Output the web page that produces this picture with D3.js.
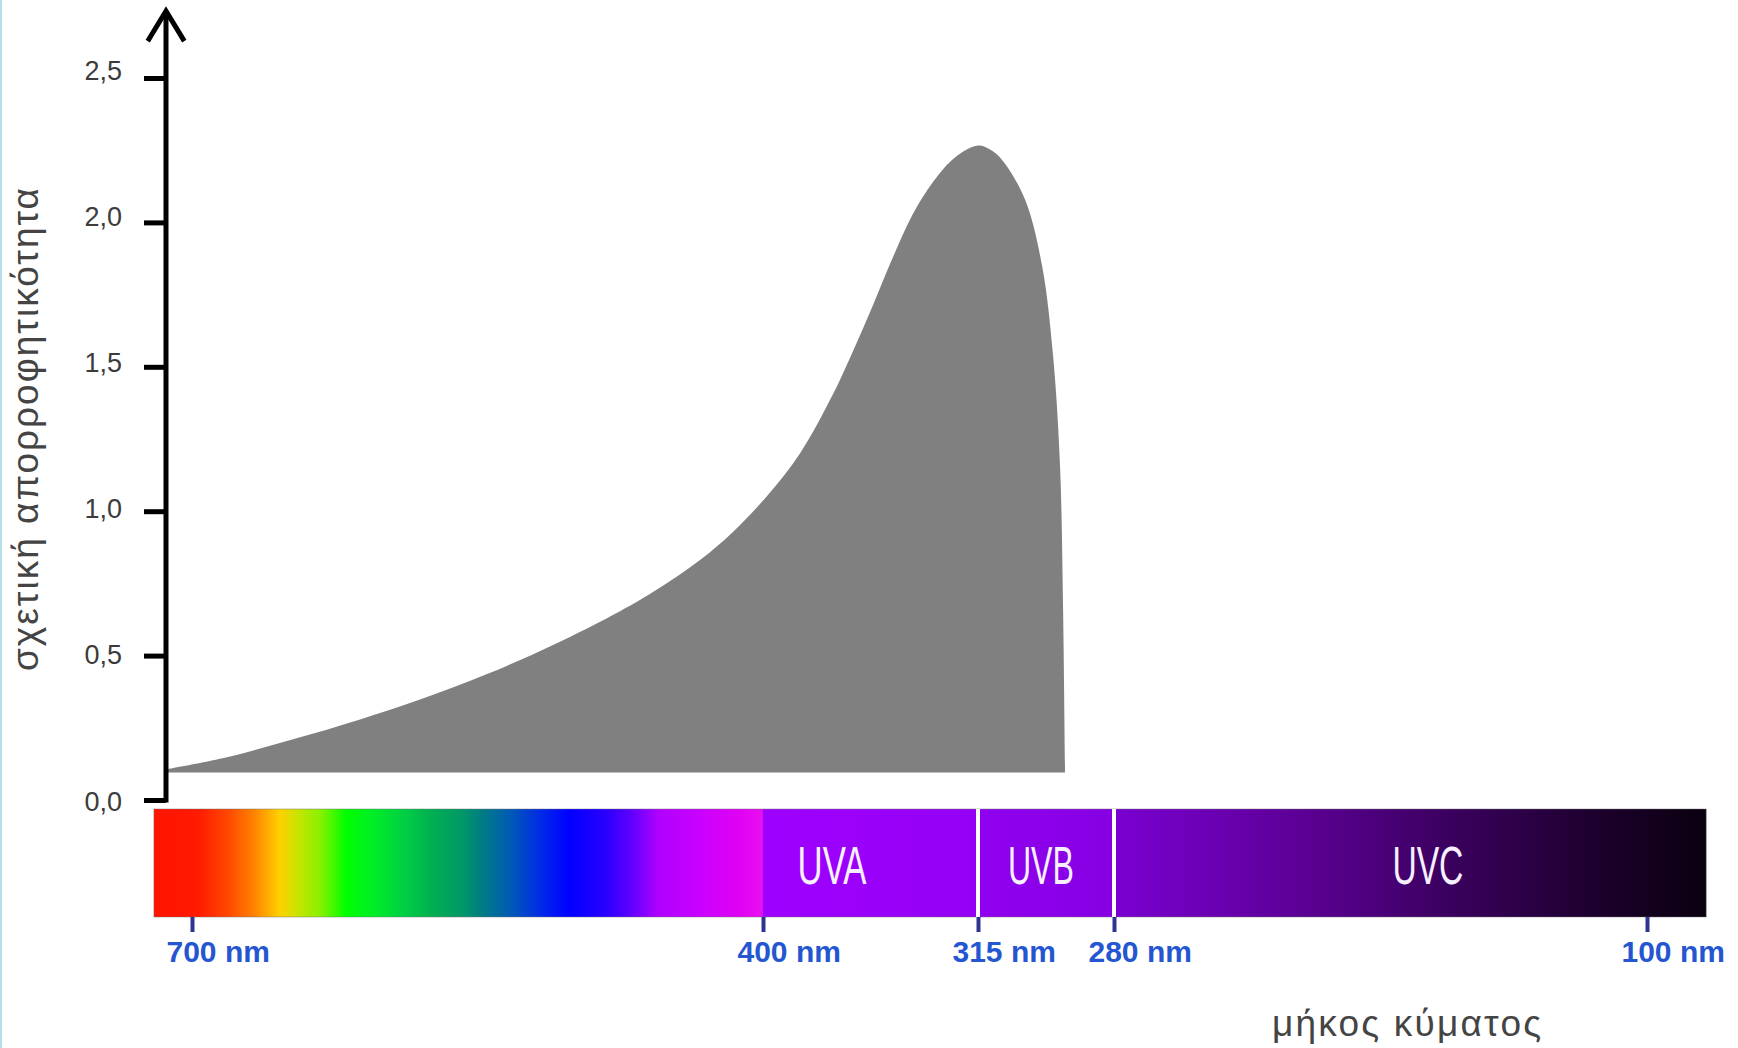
<!DOCTYPE html>
<html>
<head>
<meta charset="utf-8">
<script src="https://cdn.jsdelivr.net/npm/d3@7"></script>
<style>
  html, body { margin: 0; padding: 0; background: #fff; }
  svg { display: block; }
</style>
</head>
<body>
<script>
// ---------------- DATA ----------------
// Relative absorbance curve (wavelength in nm, relative absorbance)
const curveWavelength = [713.7, 681.6, 646.9, 611.7, 580.2, 545.0, 510.3, 475.1, 457.8, 433.1,
                         415.8, 398.4, 385.4, 372.3, 364.4, 356.5, 348.6, 340.7, 332.8, 324.1,
                         315.0, 311.9, 308.6, 302.9, 298.5, 295.7, 293.9, 293.1, 292.6];
const curveAbsorbance = [0.106, 0.148, 0.210, 0.279, 0.348, 0.436, 0.537, 0.654, 0.720, 0.831,
                         0.928, 1.053, 1.200, 1.406, 1.555, 1.714, 1.880, 2.030, 2.140, 2.225,
                         2.266, 2.252, 2.213, 2.079, 1.849, 1.541, 1.160, 0.658, 0.095];
const curveBase = 0.095;

// Y axis
const yTicks = [0, 0.5, 1.0, 1.5, 2.0, 2.5];
const yTickLabels = ["0,0", "0,5", "1,0", "1,5", "2,0", "2,5"];
const yTitle = "σχετική απορροφητικότητα";

// X axis (wavelength, nm)
const wlTicks = [700, 400, 315, 280, 100];
const wlTickLabels = ["700 nm", "400 nm", "315 nm", "280 nm", "100 nm"];
const xTitle = "μήκος κύματος";
const barExtent = [720, 80];

// UV bands
const bandNames = ["UVA", "UVB", "UVC"];
const bandLabelWl = [372.7, 298.8, 174];
const bandDividers = [315, 280];

// Spectrum colour stops (wavelength nm, colour)
const spectrumWl = [720, 697, 681, 668, 654, 643, 633, 619, 605, 587, 575, 558, 549, 532, 516, 502,
                    483, 469, 455, 434, 413, 400.3, 400, 315.3, 315, 280.3, 280, 217, 166, 116, 80];
const spectrumColors = ["#ff1400", "#ff1a00", "#ff4800", "#ff8000", "#ffd000", "#c0e600", "#8cf000",
                        "#00ff00", "#00ee26", "#00cc46", "#00b050", "#009868", "#008080", "#0058b8",
                        "#0028e8", "#0000ff", "#2800ff", "#6000ff", "#b000ff", "#c800ff", "#e000f4",
                        "#e810ee", "#9e00ff", "#9500f4", "#9000f0", "#8600e2", "#7a00d2", "#5c0096",
                        "#3a005e", "#1c002c", "#0a000f"];

// ---------------- LAYOUT ----------------
const W = 1738, H = 1048;
const axisX = 166;
const barTop = 809, barBottom = 917;
const fontMain = "'Liberation Sans', Arial, Helvetica, sans-serif";

const svg = d3.select("body").append("svg").attr("width", W).attr("height", H);

// light blue left border
svg.append("rect").attr("x", 0).attr("y", 0).attr("width", 2).attr("height", H).attr("fill", "#b6dfea");

// scales
const x = d3.scaleLinear().domain(wlTicks).range([192, 763, 978, 1114, 1647]);
const y = d3.scaleLinear().domain([0, 2.5]).range([800, 78]);

// gradient
const defs = svg.append("defs");
const x0 = x(barExtent[0]), x1 = x(barExtent[1]);
const grad = defs.append("linearGradient").attr("id", "spec")
  .attr("gradientUnits", "userSpaceOnUse")
  .attr("x1", x0).attr("x2", x1).attr("y1", 0).attr("y2", 0);
grad.selectAll("stop").data(spectrumWl).join("stop")
  .attr("offset", d => (x(d) - x0) / (x1 - x0))
  .attr("stop-color", (d, i) => spectrumColors[i]);

// area
const pts = curveWavelength.map((w, i) => ({w, a: curveAbsorbance[i]}));
const area = d3.area()
  .x(d => x(d.w))
  .y0(y(curveBase))
  .y1(d => y(d.a))
  .curve(d3.curveCatmullRom.alpha(0.5));
svg.append("path").datum(pts).attr("d", area).attr("fill", "#808080");

// Y axis
const yAxis = d3.axisLeft(y).tickValues(yTicks)
  .tickFormat((d, i) => yTickLabels[i]).tickSize(22).tickPadding(22);
const gy = svg.append("g").attr("transform", `translate(${axisX},0)`).call(yAxis)
  .attr("font-family", fontMain).attr("font-size", 27);
gy.select(".domain").remove();
gy.selectAll(".tick line").attr("stroke", "#000").attr("stroke-width", 5);
gy.selectAll(".tick text").attr("fill", "#3c3c3c").attr("dy", 0)
  .attr("y", d => 10 - d * 3.6);

// axis line with arrow
const tipY = y(2.5) - 69;
svg.append("line").attr("x1", axisX).attr("x2", axisX)
  .attr("y1", y(0) + 2.5).attr("y2", tipY + 3)
  .attr("stroke", "#000").attr("stroke-width", 5);
svg.append("path")
  .attr("d", `M${axisX - 17},${tipY + 30} L${axisX},${tipY + 2} L${axisX + 17},${tipY + 30}`)
  .attr("fill", "none").attr("stroke", "#000").attr("stroke-width", 5)
  .attr("stroke-linejoin", "miter").attr("stroke-linecap", "square");

// y title
svg.append("text")
  .attr("transform", `translate(38,${(188 + 671) / 2}) rotate(-90)`)
  .attr("text-anchor", "middle")
  .attr("font-family", fontMain).attr("font-size", 37)
  .attr("fill", "#444")
  .attr("textLength", 483)
  .text(yTitle);

// spectrum bar
svg.append("rect")
  .attr("x", x0).attr("y", barTop).attr("width", x1 - x0).attr("height", barBottom - barTop)
  .attr("fill", "url(#spec)")
  .attr("stroke", "rgba(110,110,110,0.45)").attr("stroke-width", 1);

// white dividers
svg.selectAll("line.div").data(bandDividers).join("line").attr("class", "div")
  .attr("x1", d => x(d)).attr("x2", d => x(d))
  .attr("y1", barTop).attr("y2", barBottom)
  .attr("stroke", "#fff").attr("stroke-width", 4);

// band labels
svg.selectAll("text.band").data(bandNames).join("text").attr("class", "band")
  .attr("x", (d, i) => x(bandLabelWl[i]))
  .attr("y", 884)
  .attr("text-anchor", "middle")
  .attr("font-family", fontMain).attr("font-size", 54)
  .attr("fill", "#f6f0ff")
  .attr("textLength", (d, i) => [69, 66, 71][i])
  .attr("lengthAdjust", "spacingAndGlyphs")
  .text(d => d);

// X axis ticks below bar
const xAxis = d3.axisBottom(x).tickValues(wlTicks)
  .tickFormat((d, i) => wlTickLabels[i]).tickSize(15);
const gx = svg.append("g").attr("transform", `translate(0,${barBottom})`).call(xAxis)
  .attr("font-family", fontMain).attr("font-size", 30);
gx.select(".domain").remove();
gx.selectAll(".tick line").attr("stroke", "#2e3590").attr("stroke-width", 4);
gx.selectAll(".tick text")
  .attr("fill", "#2456d2").attr("font-weight", "bold")
  .attr("text-anchor", "start").attr("x", -26).attr("y", 45).attr("dy", 0);

// x title
svg.append("text")
  .attr("x", 1272).attr("y", 1036)
  .attr("font-family", fontMain).attr("font-size", 37)
  .attr("fill", "#444")
  .attr("textLength", 269)
  .text(xTitle);
</script>
</body>
</html>
